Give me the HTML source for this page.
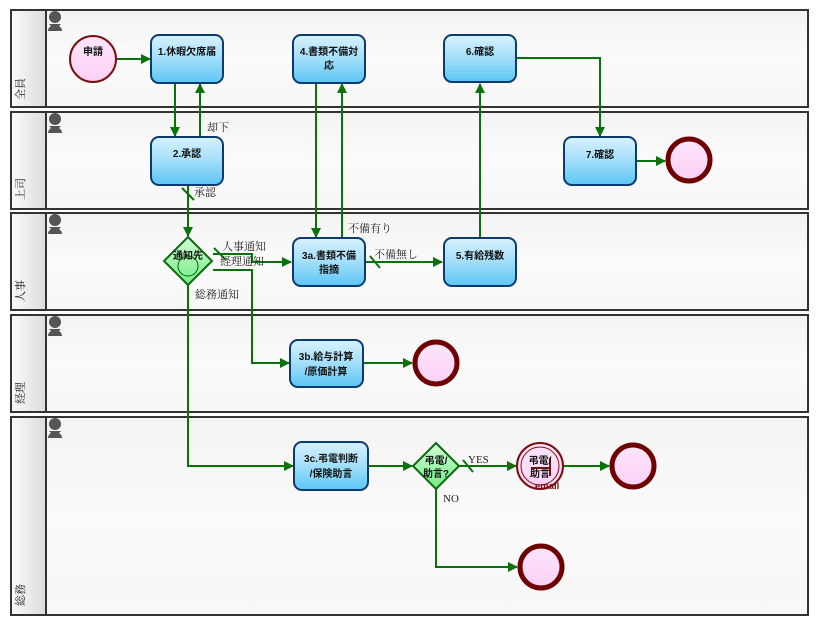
<!DOCTYPE html>
<html><head><meta charset="utf-8"><style>
html,body{margin:0;padding:0;background:#fff;}
svg{display:block;font-family:"Liberation Sans","Noto Sans CJK JP",sans-serif;}
.lb{font-family:"Liberation Serif","Noto Serif CJK SC",serif;font-size:11px;fill:#222;}
.bt{font-size:10px;font-weight:bold;fill:#111;text-anchor:middle;}
</style></head><body>
<svg width="817" height="627" viewBox="0 0 817 627">
<defs>
<linearGradient id="bg" x1="0" y1="0" x2="0" y2="1"><stop offset="0" stop-color="#f3f3f3"/><stop offset="0.5" stop-color="#fbfbfb"/><stop offset="1" stop-color="#f7f7f7"/></linearGradient>
<linearGradient id="lc" x1="0" y1="0" x2="1" y2="0"><stop offset="0" stop-color="#fafafa"/><stop offset="1" stop-color="#dcdcdc"/></linearGradient>
<linearGradient id="bx" x1="0" y1="0" x2="0" y2="1"><stop offset="0" stop-color="#d8f2fd"/><stop offset="0.45" stop-color="#a8e0fa"/><stop offset="1" stop-color="#5cc6f5"/></linearGradient>
<linearGradient id="dm" x1="0" y1="0" x2="0" y2="1"><stop offset="0" stop-color="#d6fbd9"/><stop offset="1" stop-color="#6fee82"/></linearGradient>
<linearGradient id="ev" x1="0" y1="0" x2="0" y2="1"><stop offset="0" stop-color="#fde6fb"/><stop offset="1" stop-color="#fbd0f6"/></linearGradient>
<marker id="ar" markerWidth="10" markerHeight="10" refX="9" refY="5" orient="auto" markerUnits="userSpaceOnUse"><path d="M0,0 L10,5 L0,10 z" fill="#0a720a"/></marker>
<g id="person"><circle cx="0" cy="0" r="6" fill="#555"/><path d="M-6,7 L6,7 L4,9 Q7,11 7,14 L-7,14 Q-7,11 -4,9 z" fill="#555"/></g>
</defs>
<g stroke="#333" stroke-width="2">
<rect x="11" y="10" width="797" height="97" fill="url(#bg)"/>
<rect x="11" y="112" width="797" height="97" fill="url(#bg)"/>
<rect x="11" y="213" width="797" height="97" fill="url(#bg)"/>
<rect x="11" y="315" width="797" height="97" fill="url(#bg)"/>
<rect x="11" y="417" width="797" height="198" fill="url(#bg)"/>
</g>
<g stroke="#333" stroke-width="2" fill="url(#lc)">
<rect x="11" y="10" width="35" height="97"/>
<rect x="11" y="112" width="35" height="97"/>
<rect x="11" y="213" width="35" height="97"/>
<rect x="11" y="315" width="35" height="97"/>
<rect x="11" y="417" width="35" height="198"/>
</g>
<g class="lb" font-size="12">
<text transform="translate(24,100) rotate(-90)">全員</text>
<text transform="translate(24,200) rotate(-90)">上司</text>
<text transform="translate(24,302) rotate(-90)">人事</text>
<text transform="translate(24,404) rotate(-90)">経理</text>
<text transform="translate(24,606) rotate(-90)">総務</text>
</g>
<use href="#person" x="55" y="17"/>
<use href="#person" x="55" y="119"/>
<use href="#person" x="55" y="220"/>
<use href="#person" x="55" y="322"/>
<use href="#person" x="55" y="424"/>

<g stroke="#0a720a" stroke-width="2" fill="none" marker-end="url(#ar)">
<path d="M117,59 H150"/>
<path d="M175,83 V136"/>
<path d="M200,137 V84"/>
<path d="M188,185 V236"/>
<path d="M213,254 H252 V262 H291"/>
<path d="M213,270 H252 V363 H289"/>
<path d="M188,285 V466 H293"/>
<path d="M316,83 V237"/>
<path d="M342,238 V84"/>
<path d="M365,262 H442"/>
<path d="M480,238 V84"/>
<path d="M516,58 H600 V136"/>
<path d="M637,161 H665"/>
<path d="M364,363 H412"/>
<path d="M368,466 H412"/>
<path d="M459,466 H516"/>
<path d="M564,466 H609"/>
<path d="M436,489 V567 H517"/>
</g>
<g stroke="#0a720a" stroke-width="2">
<line x1="182" y1="188" x2="194" y2="200"/>
<line x1="214" y1="248" x2="226" y2="260"/>
<line x1="370" y1="256" x2="380" y2="268"/>
<line x1="463" y1="460" x2="473" y2="472"/>
</g>
<g class="lb">
<text x="207" y="131">却下</text>
<text x="194" y="196">承認</text>
<text x="222" y="250">人事通知</text>
<text x="220" y="265">経理通知</text>
<text x="195" y="298">総務通知</text>
<text x="348" y="232">不備有り</text>
<text x="374" y="258">不備無し</text>
<text x="468" y="463">YES</text>
<text x="443" y="502">NO</text>
</g>

<g stroke="#0c3b70" stroke-width="2" fill="url(#bx)">
<rect x="151" y="35" width="72" height="48" rx="8"/>
<rect x="293" y="35" width="72" height="48" rx="8"/>
<rect x="444" y="35" width="72" height="47" rx="8"/>
<rect x="151" y="137" width="72" height="48" rx="8"/>
<rect x="564" y="137" width="72" height="48" rx="8"/>
<rect x="293" y="238" width="72" height="48" rx="8"/>
<rect x="444" y="238" width="72" height="48" rx="8"/>
<rect x="290" y="340" width="73" height="47" rx="8"/>
<rect x="294" y="442" width="74" height="48" rx="8"/>
</g>
<g class="bt">
<text x="187" y="55">1.休暇欠席届</text>
<text x="329" y="55">4.書類不備対</text><text x="329" y="69">応</text>
<text x="480" y="55">6.確認</text>
<text x="187" y="157">2.承認</text>
<text x="600" y="158">7.確認</text>
<text x="329" y="259">3a.書類不備</text><text x="329" y="273">指摘</text>
<text x="480" y="259">5.有給残数</text>
<text x="326" y="360">3b.給与計算</text><text x="326" y="375">/原価計算</text>
<text x="331" y="462">3c.弔電判断</text><text x="331" y="477">/保険助言</text>
</g>

<path d="M188,237 L212,261 L188,285 L164,261 z" fill="url(#dm)" stroke="#0b6a0b" stroke-width="2"/>
<circle cx="188" cy="266" r="10" fill="none" stroke="#0b5a0b" stroke-width="1"/>
<text class="bt" x="188" y="259">通知先</text>
<path d="M436,443 L459,466 L436,489 L413,466 z" fill="url(#dm)" stroke="#0b6a0b" stroke-width="2"/>
<text class="bt" x="436" y="464">弔電/</text><text class="bt" x="436" y="477">助言?</text>

<circle cx="93" cy="59" r="23" fill="url(#ev)" stroke="#7a0f0f" stroke-width="2"/>
<text class="bt" x="93" y="55">申請</text>
<g fill="url(#ev)" stroke="#6e0000" stroke-width="5">
<circle cx="689" cy="160" r="21"/>
<circle cx="436" cy="363" r="21"/>
<circle cx="633" cy="466" r="21"/>
<circle cx="541" cy="567" r="21"/>
</g>
<circle cx="540" cy="466" r="23" fill="url(#ev)" stroke="#7a0f0f" stroke-width="2"/>
<circle cx="540" cy="466" r="19" fill="none" stroke="#7a0f0f" stroke-width="1"/>
<path d="M531,468 H550 M550,458 V476" stroke="#7a0f0f" stroke-width="2" fill="none"/>
<text class="bt" x="540" y="464">弔電/</text><text class="bt" x="540" y="477">助言</text>
<text x="535" y="489" font-size="9.5" font-weight="bold" fill="#7a0f0f">email</text>
</svg>
</body></html>
